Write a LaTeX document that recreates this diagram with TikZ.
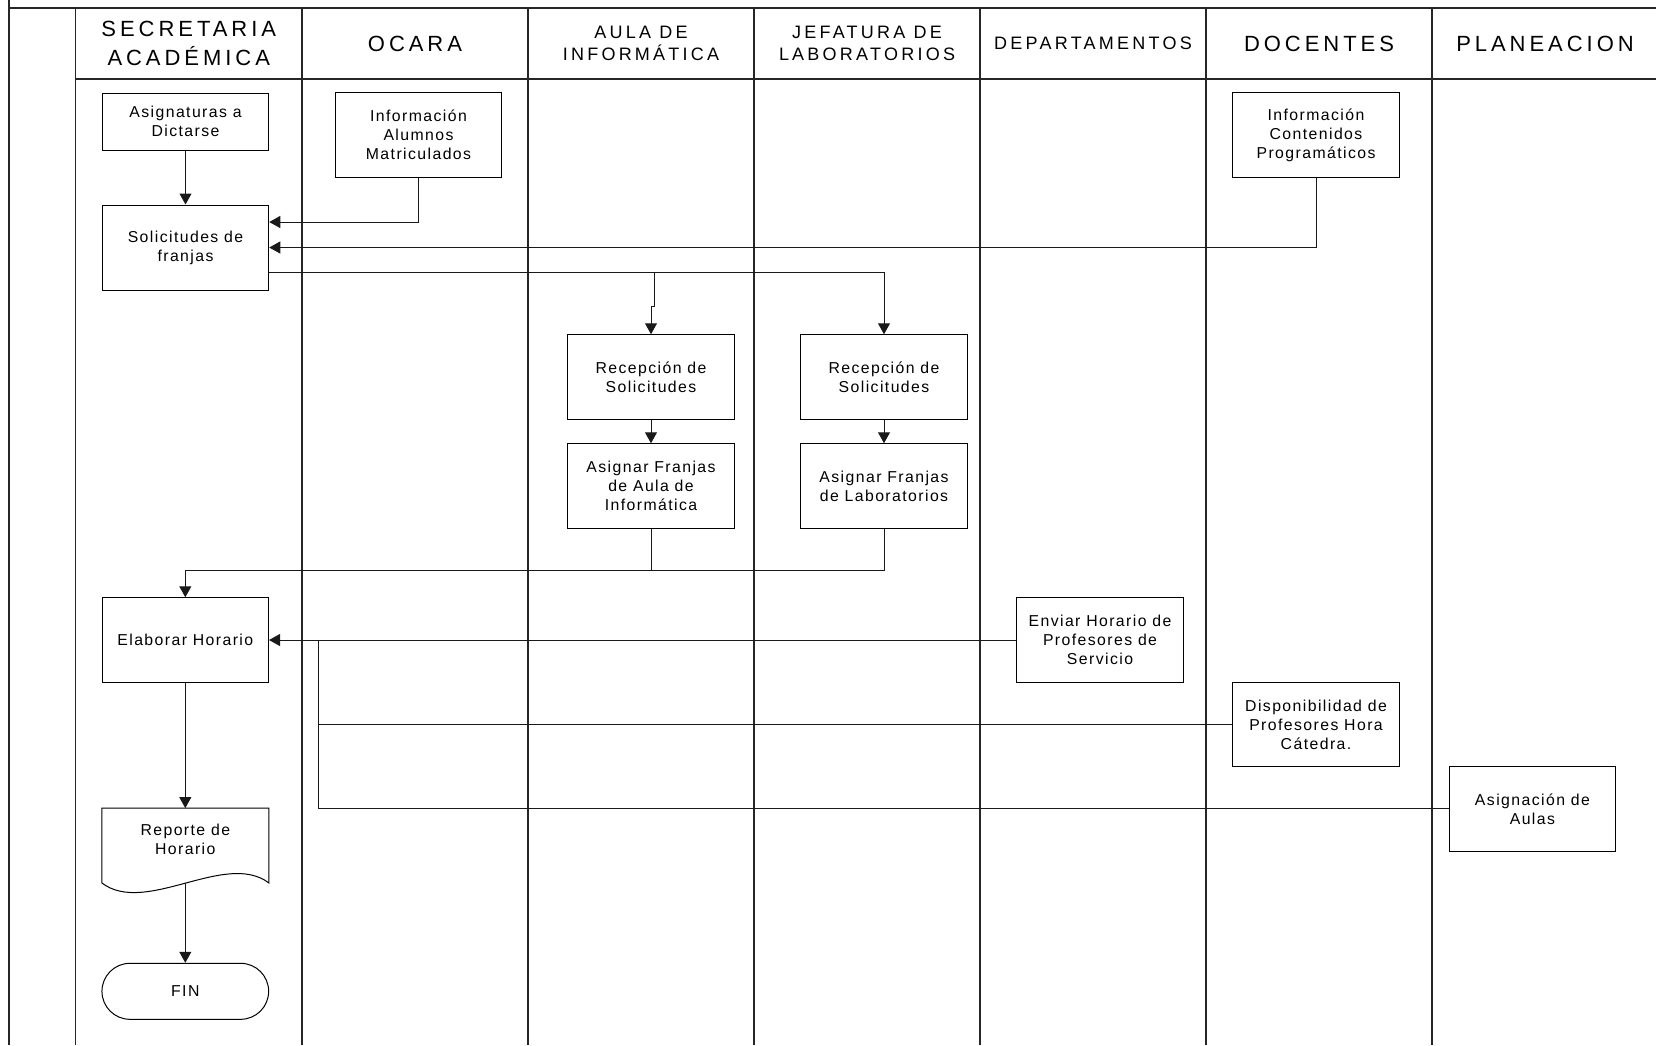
\documentclass[tikz,border=0pt]{standalone}
\usepackage{fontspec}
\setmainfont{Liberation Sans}
\newfontfamily\hdrfont[LetterSpace=18]{Liberation Sans}
\newfontfamily\boxfont[LetterSpace=9]{Liberation Sans}
\usetikzlibrary{arrows.meta,shapes.misc,calc}

\tikzset{
  frame/.style={line width=1.3pt, draw=black!85},
  lanehead/.style={align=center, inner sep=0pt, font=\hdrfont\fontsize{22}{29}\selectfont},
  laneheadsmall/.style={align=center, inner sep=0pt, font=\hdrfont\fontsize{18}{22}\selectfont},
  procbox/.style={draw, line width=1pt, rectangle, minimum width=166.5pt, minimum height=84.5pt,
                  inner sep=0pt, align=center, font=\boxfont\fontsize{15.8}{19}\selectfont},
  boxtext/.style={inner sep=0pt, align=center, font=\boxfont\fontsize{15.8}{19}\selectfont},
  conn/.style={line width=1pt, draw=black!90},
  arr/.style={conn, -{Triangle[length=11pt,width=12pt]}},
}

\begin{document}
\begin{tikzpicture}[x=1pt,y=-1pt]
\useasboundingbox (0,0) rectangle (1656,1045);

% ---- swimlane frame ----
\draw[frame] (9,0) -- (9,1045);
\draw[frame] (9,8) -- (1656,8);
\draw[frame] (75.5,79) -- (1656,79);
\foreach \lx in {75.5,302,528,754,980,1206,1432}
  \draw[frame] (\lx,8) -- (\lx,1045);

% ---- lane titles ----
\node[lanehead]      (hsec) at (188.75,43.5) {SECRETARIA\\ACADÉMICA};
\node[lanehead]      (hoca) at (415,43.5) {OCARA};
\node[laneheadsmall] (haul) at (641,43.5) {AULA DE\\INFORMÁTICA};
\node[laneheadsmall] (hjef) at (867,43.5) {JEFATURA DE\\LABORATORIOS};
\node[laneheadsmall] (hdep) at (1093,43.5) {DEPARTAMENTOS};
\node[lanehead]      (hdoc) at (1319,43.5) {DOCENTES};
\node[lanehead]      (hpla) at (1545,43.5) {PLANEACION};

% ---- process steps ----
\node[procbox, minimum height=57pt] (asig) at (185.5,121.5) {Asignaturas a\\Dictarse};
\node[procbox] (alum) at (418.5,135) {Información\\Alumnos\\Matriculados};
\node[procbox] (cont) at (1316,135) {Información\\Contenidos\\Programáticos};
\node[procbox, minimum height=85pt] (sol) at (185.5,247.5) {Solicitudes de\\franjas};
\node[procbox] (rec1) at (651,377) {Recepción de\\Solicitudes};
\node[procbox] (rec2) at (884,377) {Recepción de\\Solicitudes};
\node[procbox] (asg1) at (651,486) {Asignar Franjas\\de Aula de\\Informática};
\node[procbox] (asg2) at (884,486) {Asignar Franjas\\de Laboratorios};
\node[procbox] (elab) at (185.3,640) {Elaborar Horario};
\node[procbox] (env)  at (1100,640) {Enviar Horario de\\Profesores de\\Servicio};
\node[procbox] (disp) at (1316,724.5) {Disponibilidad de\\Profesores Hora\\Cátedra.};
\node[procbox] (aul)  at (1532.4,808.8) {Asignación de\\Aulas};

% document shape (wavy bottom)
\node[rectangle, minimum width=166.7pt, minimum height=74.4pt, inner sep=0pt] (rep) at (185.3,845.5) {};
\draw[line width=1pt] (rep.south west) -- (rep.north west) -- (rep.north east) -- (rep.south east)
  .. controls ($(rep.south east)+(-43.7,-32.7)$) and ($(rep.south west)+(44,33.3)$) .. (rep.south west);
\node[boxtext] (reptxt) at ($(rep.center)+(0,-6)$) {Reporte de\\Horario};

% terminator
\node[draw, line width=1pt, rounded rectangle, minimum width=166.7pt, minimum height=56pt,
      inner sep=0pt, font=\boxfont\fontsize{15.8}{19}\selectfont] (fin) at (185.3,991.3) {FIN};

% ---- connectors ----
\draw[arr] (asig.south) -- (sol.north);
\draw[arr] (alum.south) |- ([yshift=25.5pt]sol.east);
\draw[arr] (cont.south) |- (sol.east);

\coordinate (split) at (654.7,272.7);
\draw[arr] ([yshift=-25.2pt]sol.east) -| (rec2.north);
\draw[arr] (split) -- ++(0,33.3) -| (rec1.north);

\draw[arr] (rec1.south) -- (asg1.north);
\draw[arr] (rec2.south) -- (asg2.north);

\draw[conn] (asg1.south) -- ++(0,42);
\draw[arr] (asg2.south) -- ++(0,42) -| (elab.north);

\coordinate (bus) at (318.7,640);
\draw[arr] (env.west) -- (elab.east);
\draw[conn] (disp.west) -| (bus);
\draw[conn] (aul.west) -| (bus);

\draw[arr] (elab.south) -- (rep.north);
\draw[arr] (rep.south) -- (fin.north);
\end{tikzpicture}
\end{document}
